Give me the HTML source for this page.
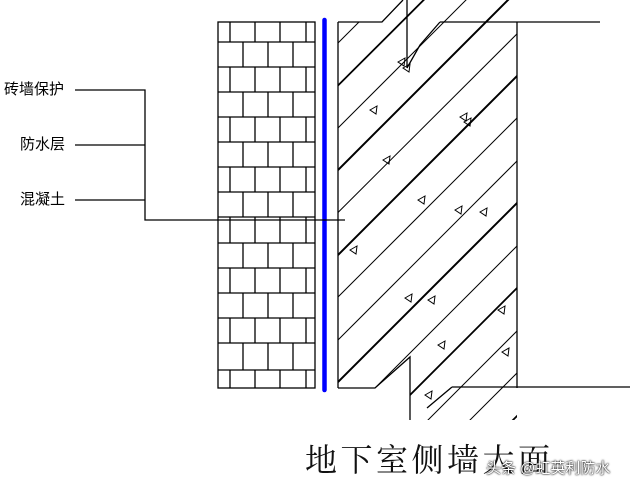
<!DOCTYPE html>
<html><head><meta charset="utf-8"><style>
html,body{margin:0;background:#fff;width:630px;height:490px;overflow:hidden;position:relative}
.t{position:absolute;font-family:"Liberation Sans","Noto Sans CJK SC",sans-serif;font-size:15px;line-height:18px;color:#000}
</style></head><body>
<svg width="630" height="490" style="position:absolute;left:0;top:0;display:block" xmlns="http://www.w3.org/2000/svg">
<defs><clipPath id="c"><polygon points="338,22 382,22 402,0 517,0 517,420 410,420 410,357 375,388 338,388"/></clipPath></defs>
<g stroke="#000" stroke-width="1.3" fill="none">
<rect x="218" y="22" width="97" height="366"/>
<path d="M218 42H315M218 67H315M218 92H315M218 117H315M218 142H315M218 167H315M218 192H315M218 217H315M218 243H315M218 268H315M218 293H315M218 318H315M218 343H315M218 370H315"/>
<path d="M230 22V42M255 22V42M280 22V42M306 22V42
M243 42V67M268 42V67M293 42V67
M230 67V92M255 67V92M280 67V92M306 67V92
M243 92V117M268 92V117M293 92V117
M230 117V142M255 117V142M280 117V142M306 117V142
M243 142V167M268 142V167M293 142V167
M230 167V192M255 167V192M280 167V192M306 167V192
M243 192V217M268 192V217M293 192V217
M230 217V243M255 217V243M280 217V243M306 217V243
M243 243V268M268 243V268M293 243V268
M230 268V293M255 268V293M280 268V293M306 268V293
M243 293V318M268 293V318M293 293V318
M230 318V343M255 318V343M280 318V343M306 318V343
M243 343V370M268 343V370M293 343V370
M230 370V388M255 370V388M280 370V388M306 370V388"/>
<path d="M338 22V388M517 22V388M338 22H382L403 0M407 0V68M440 22H600M338 388H375L410 357V420M452 387H630M452 387L427 408"/>
<path d="M407 68L420 45L440 22"/>
<g clip-path="url(#c)">
<path d="M338 -85L568 -315" stroke-width="1"/>
<path d="M338 -42L568 -272" stroke-width="1"/>
<path d="M338 0.5L568 -229" stroke-width="1"/>
<path d="M338 43L568 -187" stroke-width="1"/>
<path d="M338 85.5L568 -144" stroke-width="1.8"/>
<path d="M338 128L568 -102" stroke-width="1"/>
<path d="M338 170L568 -60" stroke-width="2"/>
<path d="M338 212.5L568 -17" stroke-width="1"/>
<path d="M338 255L568 25" stroke-width="2"/>
<path d="M338 297L568 67" stroke-width="1"/>
<path d="M338 340L568 110" stroke-width="1"/>
<path d="M338 382L568 152" stroke-width="2"/>
<path d="M338 425L568 195" stroke-width="1"/>
<path d="M338 467L568 237" stroke-width="1.8"/>
<path d="M338 510L568 280" stroke-width="1"/>
<path d="M338 552L568 322" stroke-width="1"/>
<path d="M338 595L568 365" stroke-width="1.8"/>
</g>
<g stroke-width="1">
<path d="M370 110l7 -4 -1 8z M383 160l7-4-1 8z M460 117l7-4-1 8z M464 122l7-4-1 8z M418 200l7-4-1 8z M455 210l7-4-1 8z M480 212l7-4-1 8z M350 250l7-4-1 8z M405 298l7-4-1 8z M428 300l7-4-1 8z M438 345l7-4-1 8z M498 310l7-4-1 8z M502 352l7-4-1 8z M425 395l7-4-1 8z M398 62l7-4-1 8z M403 68l7-4-1 8z"/>
</g>
<line x1="324.5" y1="20" x2="324.5" y2="390" stroke="#0000ff" stroke-width="4.5" stroke-linecap="round"/>
<path d="M75 90H145V220H345M75 145H145M75 200H145"/>
</g>
</svg>
<div class="t" style="left:4px;top:81px">砖墙保护</div>
<div class="t" style="left:20px;top:136px">防水层</div>
<div class="t" style="left:20px;top:191px">混凝土</div>
<div class="t" style="left:305px;top:442px;font-family:'Liberation Serif','Noto Serif CJK SC',serif;font-size:32px;line-height:36px;letter-spacing:3.5px;color:#111">地下室侧墙大面</div>
<div class="t" style="left:486px;top:460px;color:#fff;text-shadow:0 0 2px #000,0 0 1px #000">头条 @虹英利防水</div>
</body></html>
